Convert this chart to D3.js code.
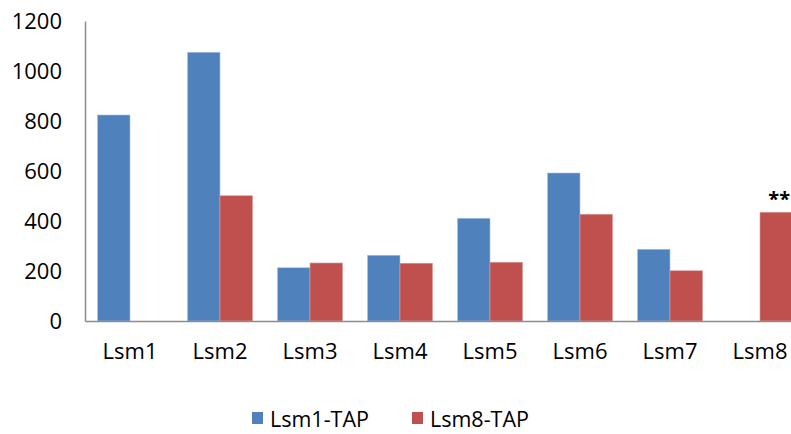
<!DOCTYPE html>
<html>
<head>
<meta charset="utf-8">
<script src="https://cdn.jsdelivr.net/npm/d3@7"></script>
<style>
  html, body { margin: 0; padding: 0; background: #fff; }
  svg { display: block; }
  text { font-family: "Open Sans", "Noto Sans", sans-serif; fill: #000; }
</style>
</head>
<body>
<svg id="chart" width="791" height="434"></svg>
<script>
const categories = ["Lsm1", "Lsm2", "Lsm3", "Lsm4", "Lsm5", "Lsm6", "Lsm7", "Lsm8"];
const seriesNames = ["Lsm1-TAP", "Lsm8-TAP"];
const lsm1TAP = [824, 1075, 213, 263, 411, 592, 287, 0];
const lsm8TAP = [0, 501, 232, 231, 235, 427, 201, 435];
const yTicks = [0, 200, 400, 600, 800, 1000, 1200];
const colors = ["#4F81BD", "#C0504D"];
const annotations = [{ category: "Lsm8", series: "Lsm8-TAP", text: "**" }];

(function () {
const data = categories.map((c, i) => ({ cat: c, values: [lsm1TAP[i], lsm8TAP[i]] }));

const svg = d3.select("#chart");
const mLeft = 85, mRight = 805, mTop = 21, mBottom = 321;

const x = d3.scaleBand().domain(categories).range([mLeft, mRight]).paddingInner(25 / 90).paddingOuter(12.5 / 90);
const xs = d3.scaleBand().domain(seriesNames).range([0, x.bandwidth()]);
const y = d3.scaleLinear().domain([0, 1200]).range([mBottom, mTop]);

// bars
const g = svg.append("g");
data.forEach(d => {
  d.values.forEach((v, si) => {
    if (v <= 0) return;
    g.append("rect")
      .attr("x", x(d.cat) + xs(seriesNames[si]))
      .attr("y", y(v))
      .attr("width", xs.bandwidth())
      .attr("height", y(0) - y(v))
      .attr("fill", colors[si])
      .attr("stroke", si === 0 ? "#a9c4e6" : "#dd9a98")
      .attr("stroke-width", 0.6);
  });
});

// y axis
const yAxis = d3.axisLeft(y).tickValues(yTicks).tickSize(0).tickPadding(23).tickFormat(d3.format("d"));
const ya = svg.append("g").attr("transform", `translate(${mLeft},0)`).call(yAxis);
ya.select(".domain").attr("stroke", "#8c8c8c").attr("stroke-width", 1.5);
ya.selectAll("text").style("font-size", "22px").attr("fill", "#000");

// x axis
const xAxis = d3.axisBottom(x).tickSize(0).tickPadding(22);
const xa = svg.append("g").attr("transform", `translate(0,${mBottom})`).call(xAxis);
xa.select(".domain").attr("stroke", "#8c8c8c").attr("stroke-width", 1.5);
xa.selectAll("text").style("font-size", "22px").attr("fill", "#000");

// annotation
annotations.forEach(a => {
  const i = categories.indexOf(a.category);
  const si = seriesNames.indexOf(a.series);
  const v = si === 0 ? lsm1TAP[i] : lsm8TAP[i];
  svg.append("text")
    .attr("x", x(a.category) + xs(a.series) + xs.bandwidth() / 2 + 3)
    .attr("y", y(v) - 6)
    .attr("text-anchor", "middle")
    .style("font-size", "20px")
    .style("font-weight", "bold")
    .text(a.text);
});

// legend
const legendX = [252, 412];
seriesNames.forEach((s, i) => {
  svg.append("rect").attr("x", legendX[i]).attr("y", 412).attr("width", 11).attr("height", 12).attr("fill", colors[i]);
  svg.append("text").attr("x", legendX[i] + 18).attr("y", 427).style("font-size", "21.5px").text(s);
});
})();
</script>
</body>
</html>
